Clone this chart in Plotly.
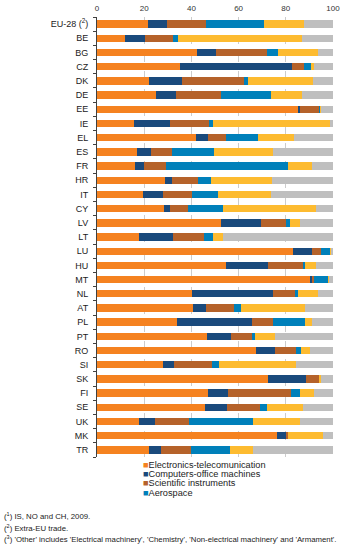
import plotly.graph_objects as go

countries = ["EU-28", "BE", "BG", "CZ", "DK", "DE", "EE", "IE", "EL", "ES", "FR", "HR",
             "IT", "CY", "LV", "LT", "LU", "HU", "MT", "NL", "AT", "PL", "PT", "RO",
             "SI", "SK", "FI", "SE", "UK", "MK", "TR"]
country_labels = ["EU-28 (<sup>2</sup>)"] + countries[1:]

electronics = [21.5, 12.0, 42.2, 35.2, 22.2, 25.1, 85.2, 15.8, 41.8, 17.1, 16.2, 28.7,
               19.4, 28.2, 52.5, 17.7, 83.2, 54.8, 90.4, 40.3, 40.7, 33.8, 46.8, 67.4,
               28.1, 72.3, 47.2, 45.8, 17.7, 76.4, 21.9]
computers = [8.2, 8.2, 8.4, 47.3, 14.0, 8.4, 0.8, 15.1, 5.2, 5.9, 3.9, 2.9,
             8.7, 2.7, 17.1, 14.6, 8.0, 17.8, 0.7, 34.1, 5.6, 31.9, 9.8, 8.2,
             4.5, 16.4, 8.3, 9.4, 6.9, 3.5, 5.2]
scientific = [16.6, 12.1, 21.3, 5.4, 26.1, 19.2, 8.4, 16.4, 7.8, 8.9, 9.3, 11.1,
              12.2, 7.8, 10.4, 13.0, 3.9, 14.8, 1.0, 9.6, 11.6, 8.7, 8.9, 8.9,
              16.0, 5.4, 26.7, 14.0, 14.5, 1.2, 12.6]
aerospace = [24.6, 2.0, 4.9, 2.9, 1.8, 21.2, 0.1, 1.9, 13.6, 17.8, 51.5, 5.6,
             11.0, 14.8, 1.6, 4.0, 3.8, 0.6, 6.1, 1.3, 3.3, 13.6, 1.6, 2.1,
             3.0, 0.1, 4.0, 2.7, 27.0, 0.0, 16.5]
pharmacy = [16.7, 52.6, 16.7, 1.1, 27.6, 12.8, 0.5, 49.4, 14.9, 24.7, 10.3, 25.9,
            22.6, 39.2, 4.3, 4.2, 0.1, 4.7, 0.2, 8.3, 26.8, 3.2, 8.3, 3.7,
            32.7, 0.7, 5.7, 15.5, 19.8, 14.8, 10.0]
other = [12.4, 13.1, 6.5, 8.1, 8.3, 13.3, 5.0, 1.4, 16.7, 25.6, 8.8, 25.8,
         26.1, 7.3, 14.1, 46.5, 1.0, 7.3, 1.6, 6.4, 12.0, 8.8, 24.6, 9.7,
         15.7, 5.1, 8.1, 12.6, 14.1, 4.1, 33.8]

series_names = ["Electronics-telecomunication", "Computers-office machines",
                "Scientific instruments", "Aerospace", "Pharmacy", "Other (3)"]
series_values = [electronics, computers, scientific, aerospace, pharmacy, other]
colors = ["#F58220", "#1A4A7C", "#B5622A", "#0080BA", "#FDBB30", "#BFBFBF"]
legend_names = series_names[:4]

footnotes = [
    "(<sup>1</sup>) IS, NO and CH, 2009.",
    "(<sup>2</sup>) Extra-EU trade.",
    "(<sup>3</sup>) 'Other' includes 'Electrical machinery', 'Chemistry', 'Non-electrical machinery' and 'Armament'.",
]

FONT = "Liberation Sans, Arial, sans-serif"
W, H = 350, 546
ML, MR, MT, MB = 97, 17, 17, 89
PW, PH = W - ML - MR, H - MT - MB


def px_x(x):
    return (x - ML) / PW


def px_y(y):
    return (H - MB - y) / PH


fig = go.Figure()
for name, vals, col in zip(series_names, series_values, colors):
    fig.add_trace(go.Bar(
        y=countries, x=vals, name=name, orientation="h",
        marker=dict(color=col, line=dict(width=0)),
        showlegend=False,
    ))

annotations = []
legend_y = [465, 474.2, 483.4, 492.6]
for name, col, yy in zip(legend_names, colors[:4], legend_y):
    annotations.append(dict(
        xref="paper", yref="paper", x=px_x(140.5), y=px_y(yy),
        xanchor="left", yanchor="middle", showarrow=False,
        text=f"<span style='color:{col}'>■</span>{name}",
        font=dict(size=9.2, color="#222", family=FONT),
    ))

foot_y = [516, 527.5, 539]
for t, yy in zip(footnotes, foot_y):
    annotations.append(dict(
        xref="paper", yref="paper", x=px_x(2), y=px_y(yy),
        xanchor="left", yanchor="middle", showarrow=False, text=t,
        font=dict(size=7.8, color="#222", family=FONT),
    ))

fig.update_layout(
    width=W, height=H,
    margin=dict(l=ML, r=MR, t=MT, b=MB, pad=0, autoexpand=False),
    barmode="stack", bargap=0.48,
    plot_bgcolor="white", paper_bgcolor="white",
    font=dict(family=FONT, size=9, color="#222"),
    showlegend=False,
    annotations=annotations,
    xaxis=dict(
        side="top", range=[0, 100], tickvals=[0, 20, 40, 60, 80, 100],
        showgrid=True, griddash="dash", gridcolor="#cccccc", gridwidth=1,
        zeroline=False, showline=False, ticks="", automargin=False,
        ticklabelstandoff=3,
        tickfont=dict(size=8, color="#333", family=FONT), fixedrange=True,
    ),
    yaxis=dict(
        type="category", autorange="reversed", automargin=False,
        tickvals=countries, ticktext=country_labels,
        showline=True, linecolor="#404040", linewidth=1,
        ticks="outside", tickson="boundaries", ticklen=3, tickcolor="#404040",
        ticklabelstandoff=6,
        showgrid=False, zeroline=False,
        tickfont=dict(size=9, color="#222", family=FONT), fixedrange=True,
    ),
)

fig.write_html("out.html")
